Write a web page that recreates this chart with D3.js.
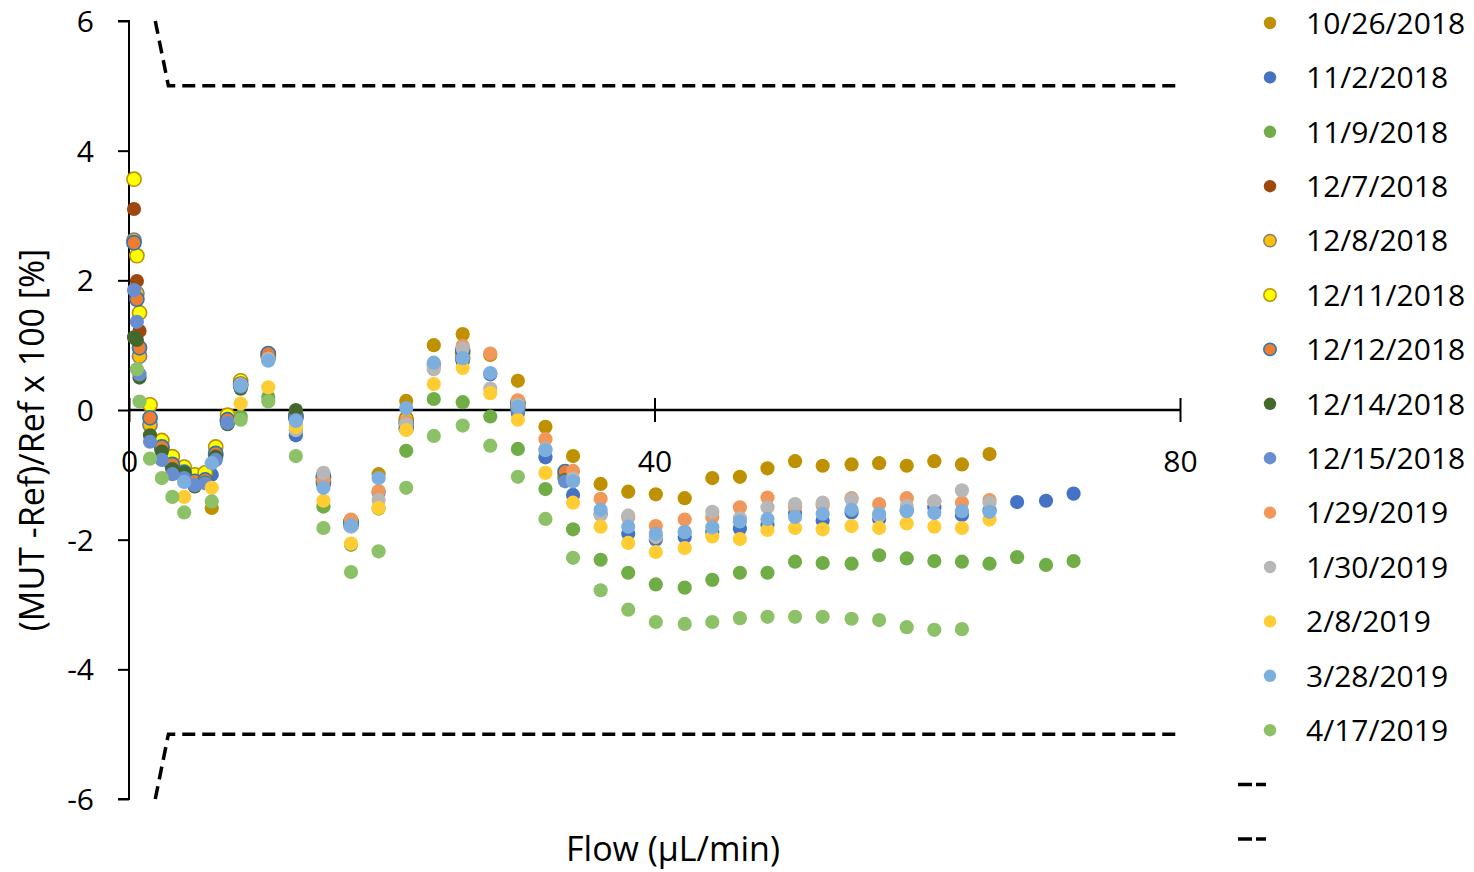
<!DOCTYPE html>
<html>
<head>
<meta charset="utf-8">
<script src="https://cdn.jsdelivr.net/npm/d3@7"></script>
<style>
  html, body { margin: 0; padding: 0; background: #fff; }
  svg { display: block; font-family: "Open Sans", "DejaVu Sans", sans-serif; }
</style>
</head>
<body>
<svg id="chart" width="1474" height="872"></svg>
<script>
// ---------- DATA ----------
const xTicks = [0, 40, 80];
const yTicks = [-6, -4, -2, 0, 2, 4, 6];
const xTitle = "Flow (µL/min)";
const yTitle = "(MUT -Ref)/Ref x 100 [%]";

// flows for the Oct/Nov and 2019 runs
const flowsLate = [0.6, 0.8, 1.6, 2.5, 3.3, 4.2, 6.3, 8.5, 10.6, 12.7, 14.8, 16.9, 19.0, 21.1, 23.2, 25.4, 27.5, 29.6, 31.7, 33.8, 35.9, 38.0, 40.1, 42.3, 44.4, 46.5, 48.6, 50.7, 52.8, 55.0, 57.1, 59.2, 61.3, 63.4, 65.5, 67.6, 69.8, 71.9];
// flows for the December runs
const flowsDec = [0.38, 0.6, 0.8, 1.6, 2.5, 3.3, 4.2, 5.0, 5.8, 6.6, 7.5, 8.5, 10.6, 12.7, 14.8, 16.9, 21.1, 25.4, 29.6, 33.2];

const v_20181026 = [null, null, null, null, null, null, -1.51, 0.44, 0.82, -0.05, -1.05, -1.72, -0.99, 0.14, 1.0, 1.17, 0.85, 0.45, -0.26, -0.71, -1.14, -1.26, -1.3, -1.36, -1.05, -1.03, -0.9, -0.79, -0.86, -0.84, -0.82, -0.86, -0.79, -0.84, -0.68, null, null, null];
const v_20181102 = [null, null, null, null, null, null, -1.0, 0.35, 0.8, -0.39, -1.1, -1.76, -1.27, -0.2, 0.7, 0.85, 0.55, -0.05, -0.73, -1.31, -1.6, -1.91, -2.0, -1.96, -1.88, -1.83, -1.77, -1.59, -1.71, -1.58, -1.68, -1.55, -1.5, -1.62, -1.55, -1.42, -1.4, -1.29];
const v_20181109 = [null, null, null, null, null, null, null, -0.1, 0.2, -0.31, -1.49, -2.08, -1.52, -0.63, 0.17, 0.12, -0.1, -0.6, -1.22, -1.84, -2.31, -2.51, -2.69, -2.74, -2.62, -2.51, -2.51, -2.34, -2.36, -2.37, -2.24, -2.29, -2.33, -2.34, -2.37, -2.27, -2.39, -2.33];
const v_20181207 = [3.10, 1.99, 1.22, -0.15, -0.55, -0.82, -0.95, -1.08, -1.05, -0.65, -0.12, 0.42, 0.86, -0.05, -1.08, -1.7, -0.12, 0.9, 0.1, -0.98];
const v_20181208 = [2.62, 1.8, 0.83, -0.23, -0.6, -0.87, -0.98, -1.1, -1.1, -0.7, -0.18, 0.38, 0.82, -0.12, -1.12, -1.78, -0.28, 0.8, 0.03, -1.05];
const v_20181211 = [3.56, 2.38, 1.50, 0.08, -0.47, -0.72, -0.88, -1.0, -0.97, -0.57, -0.08, 0.45, 0.85, -0.08, -1.05, -1.72, -0.15, 0.88, 0.08, -1.0];
const v_20181212 = [2.58, 1.71, 0.96, -0.12, -0.57, -0.84, -0.96, -1.1, -1.08, -0.67, -0.15, 0.4, 0.87, -0.1, -1.02, -1.73, -0.2, 0.92, 0.12, -0.95];
const v_20181214 = [1.12, 1.08, 0.5, -0.39, -0.64, -0.91, -0.97, -1.18, -1.12, -0.72, -0.22, 0.33, 0.8, 0.0, -1.15, -1.76, -0.25, 0.75, 0.02, -1.08];
const v_20181215 = [1.85, 1.36, 0.55, -0.49, -0.77, -0.99, -1.05, -1.16, -1.13, -0.77, -0.2, 0.36, 0.78, -0.15, -1.1, -1.74, -0.22, 0.78, 0.0, -1.1];
const v_20190129 = [null, null, null, null, null, null, null, 0.4, 0.8, -0.2, -1.07, -1.69, -1.25, -0.18, 0.68, 0.99, 0.87, 0.15, -0.45, -0.94, -1.37, -1.66, -1.79, -1.69, -1.65, -1.5, -1.35, -1.49, -1.47, -1.36, -1.45, -1.36, -1.41, -1.43, -1.39, null, null, null];
const v_20190130 = [null, null, null, null, null, null, null, 0.38, 0.78, -0.31, -0.97, -1.8, -1.39, -0.22, 0.63, 0.95, 0.33, 0.08, -0.6, -1.06, -1.62, -1.63, -1.96, -1.88, -1.57, -1.67, -1.5, -1.45, -1.43, -1.38, -1.63, -1.48, -1.41, -1.24, -1.43, null, null, null];
const v_20190208 = [null, null, null, null, null, -1.34, -1.2, 0.1, 0.35, -0.26, -1.4, -2.06, -1.51, -0.31, 0.4, 0.65, 0.26, -0.15, -0.97, -1.43, -1.8, -2.05, -2.19, -2.13, -1.95, -1.99, -1.85, -1.82, -1.84, -1.79, -1.82, -1.75, -1.8, -1.82, -1.69, null, null, null];
const v_20190328 = [null, null, null, null, null, -1.11, -0.82, 0.38, 0.76, -0.17, -1.2, -1.78, -1.05, 0.03, 0.73, 0.8, 0.57, 0.05, -0.62, -1.1, -1.54, -1.8, -1.91, -1.88, -1.81, -1.72, -1.68, -1.65, -1.6, -1.54, -1.6, -1.56, -1.59, -1.56, -1.57, null, null, null];
const v_20190417 = [0.63, 0.13, -0.75, -1.05, -1.34, -1.58, -1.41, -0.15, 0.13, -0.71, -1.82, -2.5, -2.18, -1.2, -0.4, -0.24, -0.55, -1.03, -1.68, -2.28, -2.78, -3.08, -3.27, -3.3, -3.27, -3.21, -3.19, -3.19, -3.19, -3.22, -3.24, -3.35, -3.39, -3.38, null, null, null, null];

// tolerance limits (dashed)
const limitFlows = [2, 3, 80];
const upperLimit = [6, 5, 5];
const lowerLimit = [-6, -5, -5];

// series table (name, flows, values, styling)
const series = [
  { name: "10/26/2018", flows: flowsLate, values: v_20181026, fill: "#BF9000", stroke: null },
  { name: "11/2/2018",  flows: flowsLate, values: v_20181102, fill: "#4472C4", stroke: null },
  { name: "11/9/2018",  flows: flowsLate, values: v_20181109, fill: "#70AD47", stroke: null },
  { name: "12/7/2018",  flows: flowsDec,  values: v_20181207, fill: "#9E480E", stroke: null },
  { name: "12/8/2018",  flows: flowsDec,  values: v_20181208, fill: "#FFC000", stroke: "#7F7F7F" },
  { name: "12/11/2018", flows: flowsDec,  values: v_20181211, fill: "#FFFF00", stroke: "#BF9000" },
  { name: "12/12/2018", flows: flowsDec,  values: v_20181212, fill: "#ED7D31", stroke: "#2E75B6" },
  { name: "12/14/2018", flows: flowsDec,  values: v_20181214, fill: "#43682B", stroke: null },
  { name: "12/15/2018", flows: flowsDec,  values: v_20181215, fill: "#698ED0", stroke: null },
  { name: "1/29/2019",  flows: flowsLate, values: v_20190129, fill: "#F1975A", stroke: null },
  { name: "1/30/2019",  flows: flowsLate, values: v_20190130, fill: "#B7B7B7", stroke: null },
  { name: "2/8/2019",   flows: flowsLate, values: v_20190208, fill: "#FFCD33", stroke: null },
  { name: "3/28/2019",  flows: flowsLate, values: v_20190328, fill: "#7CAFDD", stroke: null },
  { name: "4/17/2019",  flows: flowsLate, values: v_20190417, fill: "#8CC168", stroke: null }
];

// ---------- DRAW ----------
const svg = d3.select("#chart");
const plot = { left: 129, right: 1180, top: 21, bottom: 799 };
const x = d3.scaleLinear().domain([0, 80]).range([plot.left, plot.right]);
const y = d3.scaleLinear().domain([-6, 6]).range([plot.bottom, plot.top]);
const FONT = 30;
const TITLE_FONT = 34;
const fmt = (d) => String(d); // plain hyphen-minus like the original

// y axis
const yAxis = d3.axisLeft(y).tickValues(yTicks).tickSize(11).tickPadding(24).tickFormat(fmt);
const gy = svg.append("g").attr("transform", `translate(${plot.left},0)`).call(yAxis);
gy.select(".domain").attr("stroke", "#000").attr("stroke-width", 2).attr("d", `M-11,${plot.top}H0V${plot.bottom}H-11`);
gy.selectAll(".tick line").attr("stroke", "#000").attr("stroke-width", 2);
gy.selectAll(".tick text").attr("font-size", FONT).attr("fill", "#000")
  .attr("font-family", '"Open Sans", sans-serif').attr("dy", "0.35em");

// x axis at y=0 with crossing ticks
const xAxis = d3.axisBottom(x).tickValues(xTicks).tickSize(0).tickPadding(0).tickFormat(fmt);
const gx = svg.append("g").attr("transform", `translate(0,${y(0)})`).call(xAxis);
gx.select(".domain").attr("stroke", "#000").attr("stroke-width", 2.5).attr("d", `M${plot.left},0H${plot.right}`);
gx.selectAll(".tick line").attr("stroke", "#000").attr("stroke-width", 2).attr("y1", -12).attr("y2", 12);
gx.selectAll(".tick text").attr("font-size", FONT).attr("fill", "#000")
  .attr("font-family", '"Open Sans", sans-serif').attr("y", 62).attr("dy", 0);

// tolerance dashed lines
const limLine = d3.line().x((d) => x(d[0])).y((d) => y(d[1]));
[upperLimit, lowerLimit].forEach((lim) => {
  svg.append("path")
    .attr("d", limLine(limitFlows.map((f, i) => [f, lim[i]])))
    .attr("fill", "none").attr("stroke", "#000").attr("stroke-width", 3.5)
    .attr("stroke-dasharray", "13,7");
});

// points
const R = 7.1;
series.forEach((s) => {
  const pts = s.flows.map((f, i) => [f, s.values[i]]).filter((d) => d[1] !== null && d[1] !== undefined);
  svg.append("g").selectAll("circle").data(pts).join("circle")
    .attr("cx", (d) => x(d[0])).attr("cy", (d) => y(d[1])).attr("r", R)
    .attr("fill", s.fill)
    .attr("stroke", s.stroke || "none").attr("stroke-width", s.stroke ? 1.6 : 0);
});

// axis titles
svg.append("text").attr("x", 673).attr("y", 861).attr("text-anchor", "middle")
  .attr("font-size", TITLE_FONT).attr("fill", "#000").text(xTitle);
svg.append("text").attr("transform", "translate(44,440) rotate(-90)").attr("text-anchor", "middle")
  .attr("font-size", TITLE_FONT).attr("fill", "#000").text(yTitle);

// legend
const legY0 = 23, legStep = 54.4;
const leg = svg.append("g");
series.forEach((s, i) => {
  const cy = legY0 + i * legStep;
  leg.append("circle").attr("cx", 1270).attr("cy", cy).attr("r", 6.2)
    .attr("fill", s.fill).attr("stroke", s.stroke || "none").attr("stroke-width", s.stroke ? 1.5 : 0);
  leg.append("text").attr("x", 1306).attr("y", cy).attr("dy", "0.36em")
    .attr("font-size", FONT).attr("fill", "#000").text(s.name);
});
[0, 1].forEach((k) => {
  const cy = legY0 + (series.length + k) * legStep;
  leg.append("line").attr("x1", 1238).attr("x2", 1266).attr("y1", cy).attr("y2", cy)
    .attr("stroke", "#000").attr("stroke-width", 3.5).attr("stroke-dasharray", "14,4");
});
</script>
</body>
</html>
